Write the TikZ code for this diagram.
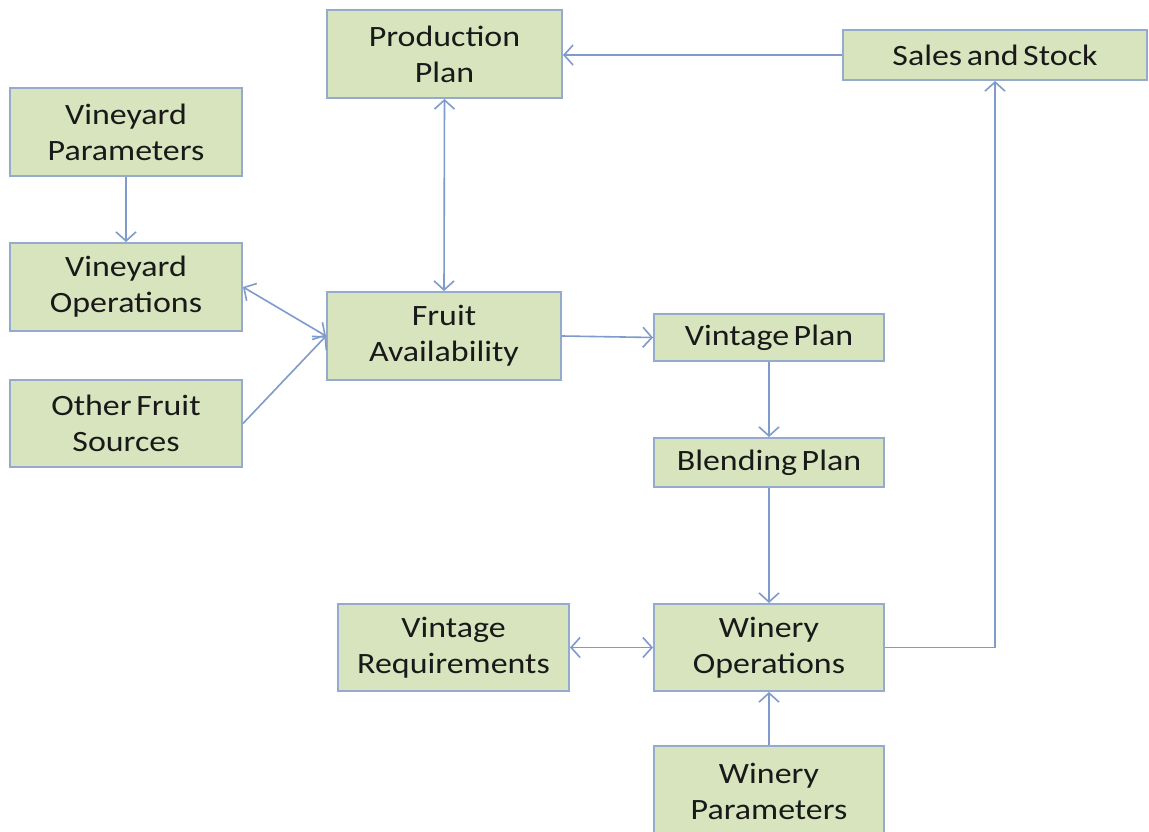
\documentclass[tikz,border=0pt]{standalone}
\usepackage{fontspec}
\setmainfont{Carlito}[FakeStretch=1.15, WordSpace=0.6]
\usetikzlibrary{arrows.meta}
\definecolor{boxfill}{HTML}{D7E4BD}
\definecolor{boxline}{HTML}{94AACE}
\definecolor{linkline}{HTML}{7F9BCB}
\tikzset{
  box/.style={draw=boxline, fill=boxfill, line width=2pt, align=center,
    inner sep=0pt, font=\fontsize{29.5}{36}\selectfont, text=black!90},
  link/.style={draw=linkline, line width=1.6pt,
    -{Straight Barb[length=9pt,width=20pt,line width=1.6pt]}},
  link2/.style={link, {Straight Barb[length=9pt,width=20pt,line width=1.6pt]}-{Straight Barb[length=9pt,width=20pt,line width=1.6pt]}},
}
\begin{document}
\begin{tikzpicture}[x=1pt,y=-1pt]
\useasboundingbox (0,0) rectangle (1149,832);
\fill[white] (0,0) rectangle (1149,832);

\node[box, minimum width=235pt, minimum height=88pt] (pp) at (444.5,54) {Production\\Plan};
\node[box, minimum width=304pt, minimum height=50pt] (ss) at (995,55) {Sales and Stock};
\node[box, minimum width=232pt, minimum height=88pt] (vp) at (126,132) {Vineyard\\Parameters};
\node[box, minimum width=232pt, minimum height=88pt] (vo) at (126,287) {Vineyard\\Operations};
\node[box, minimum width=232pt, minimum height=87pt] (of) at (126,423.5) {Other Fruit\\Sources};
\node[box, minimum width=234pt, minimum height=88pt] (fa) at (444,336) {Fruit\\Availability};
\node[box, minimum width=230pt, minimum height=47pt] (vip) at (769,337.5) {Vintage Plan};
\node[box, minimum width=230pt, minimum height=49pt] (bp) at (769,462.5) {Blending Plan};
\node[box, minimum width=231pt, minimum height=87pt] (vr) at (453.5,647.5) {Vintage\\Requirements};
\node[box, minimum width=230pt, minimum height=87pt] (wo) at (769,647.5) {Winery\\Operations};
\node[box, minimum width=230pt, minimum height=90pt] (wp) at (769,791) {Winery\\Parameters};

\coordinate (corner) at (995,647.5);

\draw[link] (ss.west) -- (pp.east |- ss.west);
\draw[link2] (pp.south) -- (fa.north);
\draw[link] (vp.south) -- (vo.north);
\draw[link2] (vo.east) -- (fa.west);
\draw[link] (of.east) -- (fa.west);
\draw[link] (fa.east) -- (vip.west);
\draw[link] (vip.south) -- (bp.north);
\draw[link] (bp.south) -- (wo.north);
\draw[link2] (vr.east) -- (wo.west);
\draw[link] (wp.north) -- (wo.south);
\draw[link] (wo.east) -- (corner) -- (ss.south);
\end{tikzpicture}
\end{document}
